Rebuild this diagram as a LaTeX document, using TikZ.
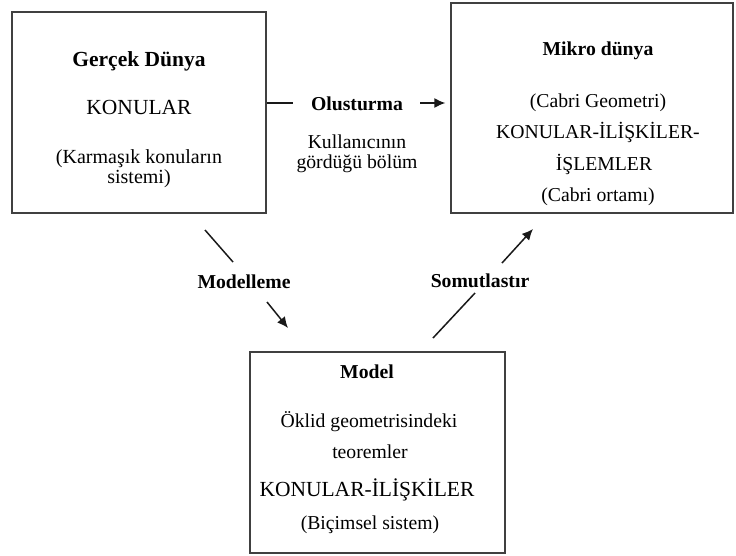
\documentclass[tikz,border=0pt]{standalone}
\usepackage{fontspec}
\setmainfont{Liberation Serif}
\usetikzlibrary{arrows.meta}
\begin{document}
\begin{tikzpicture}[x=1pt,y=-1pt,
  box/.style={draw=black!75, line width=1.3pt, inner sep=0pt},
  txt/.style={anchor=base, inner sep=0pt, font=\fontsize{19.7}{22}\selectfont},
  big/.style={anchor=base, inner sep=0pt, font=\fontsize{21.5}{24}\selectfont},
  ttl/.style={anchor=base, inner sep=0pt, font=\fontsize{19.7}{22}\selectfont\bfseries},
  bigttl/.style={anchor=base, inner sep=0pt, font=\fontsize{21.5}{24}\selectfont\bfseries},
  conn/.style={line width=1.5pt, draw=black!90},
  arr/.style={conn, -{Latex[length=11pt,width=10pt]}}]
\useasboundingbox (0,0) rectangle (736,555);
\fill[white] (0,0) rectangle (736,555);
% boxes
\node[box, minimum width=254pt, minimum height=201pt] (b1) at (139,112.5) {};
\node[box, minimum width=282pt, minimum height=210pt] (b2) at (592,108) {};
\node[box, minimum width=255pt, minimum height=201pt] (b3) at (377.5,452.5) {};
% box 1 texts
\node[bigttl] (t11) at (139,66) {Gerçek Dünya};
\node[big] (t12) at (139,114) {KONULAR};
\node[txt, font=\fontsize{20}{22}\selectfont] (t13) at (139,163) {(Karmaşık konuların};
\node[txt, font=\fontsize{20}{22}\selectfont] (t14) at (139,183) {sistemi)};
% box 2 texts
\node[ttl] (t21) at (598,55) {Mikro dünya};
\node[txt] (t22) at (598,107) {(Cabri Geometri)};
\node[txt] (t23) at (598,138) {KONULAR-İLİŞKİLER-};
\node[txt] (t24) at (604,170) {İŞLEMLER};
\node[txt] (t25) at (598,201) {(Cabri ortamı)};
% box 3 texts
\node[ttl] (t31) at (367,378) {Model};
\node[txt] (t32) at (369,427) {Öklid geometrisindeki};
\node[txt] (t33) at (370,458) {teoremler};
\node[big] (t34) at (367,496) {KONULAR-İLİŞKİLER};
\node[txt] (t35) at (370,529) {(Biçimsel sistem)};
% connector labels
\node[ttl] (olus) at (357,110) {Olusturma};
\node[txt] (kul1) at (357,148) {Kullanıcının};
\node[txt] (kul2) at (357,168) {gördüğü bölüm};
\node[ttl] (mod) at (244,288) {Modelleme};
\node[ttl] (som) at (480,287) {Somutlastır};
% connector end points
\coordinate (o1) at (293,103);
\coordinate (o2) at (420,103);
\coordinate (m1) at (205,230);
\coordinate (m2) at (233,262);
\coordinate (m3) at (267,302);
\coordinate (m4) at (288,328);
\coordinate (s1) at (433,338);
\coordinate (s2) at (475,293);
\coordinate (s3) at (502,263);
\coordinate (s4) at (533,229);
% connectors
\draw[conn] (b1.east |- o1) -- (o1);
\draw[arr, shorten >=5pt] (o2) -- (b2.west |- o2);
\draw[conn] (m1) -- (m2);
\draw[arr] (m3) -- (m4);
\draw[conn] (s1) -- (s2);
\draw[arr] (s3) -- (s4);
\end{tikzpicture}
\end{document}
